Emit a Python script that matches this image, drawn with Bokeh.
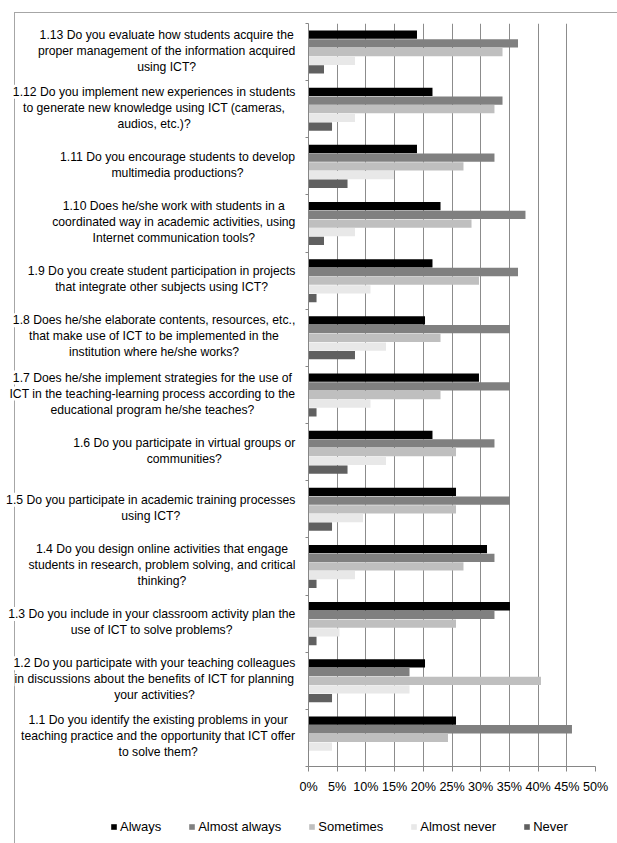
from bokeh.plotting import figure
from bokeh.layouts import column, row
from bokeh.models import (ColumnDataSource, Range1d, FixedTicker, PrintfTickFormatter,
                          Legend, LegendItem)
from bokeh.core.properties import value
from bokeh.transform import dodge
from bokeh.embed import file_html
from bokeh.resources import INLINE

# Survey items, from 1.1 (bottom) to 1.13 (top); "\n" marks the line breaks
questions = [
    "1.1 Do you identify the existing problems in your\nteaching practice and the opportunity that ICT offer\nto solve them?",
    "1.2 Do you participate with your teaching colleagues\nin discussions about the benefits of ICT for planning\nyour activities?",
    "1.3 Do you include in your classroom activity plan the\nuse of ICT to solve problems?",
    "1.4 Do you design online activities that engage\nstudents in research, problem solving, and critical\nthinking?",
    "1.5 Do you participate in academic training processes\nusing ICT?",
    "1.6 Do you participate in virtual groups or\ncommunities?",
    "1.7 Does he/she implement strategies for the use of\nICT in the teaching-learning process according to the\neducational program he/she teaches?",
    "1.8 Does he/she elaborate contents, resources, etc.,\nthat make use of ICT to be implemented in the\ninstitution where he/she works?",
    "1.9 Do you create student participation in projects\nthat integrate other subjects using ICT?",
    "1.10 Does he/she work with students in a\ncoordinated way in academic activities, using\nInternet communication tools?",
    "1.11 Do you encourage students to develop\nmultimedia productions?",
    "1.12 Do you implement new experiences in students\nto generate new knowledge using ICT (cameras,\naudios, etc.)?",
    "1.13 Do you evaluate how students acquire the\nproper management of the information acquired\nusing ICT?",
]

# Share of answers (%) per item, same order as questions
always        = [25.7, 20.3, 35.1, 31.1, 25.7, 21.6, 29.7, 20.3, 21.6, 23.0, 18.9, 21.6, 18.9]
almost_always = [45.9, 17.6, 32.4, 32.4, 35.1, 32.4, 35.1, 35.1, 36.5, 37.8, 32.4, 33.8, 36.5]
sometimes     = [24.3, 40.5, 25.7, 27.0, 25.7, 25.7, 23.0, 23.0, 29.7, 28.4, 27.0, 32.4, 33.8]
almost_never  = [4.1, 17.6, 5.4, 8.1, 9.5, 13.5, 10.8, 13.5, 10.8, 8.1, 14.9, 8.1, 8.1]
never         = [0.0, 4.1, 1.4, 1.4, 4.1, 6.8, 1.4, 8.1, 1.4, 2.7, 6.8, 4.1, 2.7]

series_keys = ["always", "almost_always", "sometimes", "almost_never", "never"]
series_names = ["Always", "Almost always", "Sometimes", "Almost never", "Never"]
series_colors = ["#000000", "#808080", "#bfbfbf", "#e8e8e8", "#606060"]
x_ticks = [0, 5, 10, 15, 20, 25, 30, 35, 40, 45, 50]

FONT = "Liberation Sans"
FS = 12.6          # tick labels
LFS = 12.2         # question labels
W, H = 617, 843
LABEL_W = 296            # width of the label column
TOP_H = 800              # height of the label + chart row
LEG_H = H - TOP_H        # height of the legend strip
AXIS_X, AXIS_TOP, AXIS_BOTTOM, PLOT_W = 308, 23, 766, 287
BORDER_X, BORDER_Y = 14, 12
n = len(questions)
ppu = (AXIS_BOTTOM - AXIS_TOP) / n          # pixels per category

# Arial-compatible advance widths (per 1000 em) used to centre the wrapped labels
_W = {" ": 278, ".": 278, ",": 278, "/": 278, "?": 556, "(": 333, ")": 333, "-": 333, "%": 889}
_W.update({d: 556 for d in "0123456789"})
_W.update(dict(zip("abcdefghijklmnopqrstuvwxyz",
                   [556, 556, 500, 556, 556, 278, 556, 556, 222, 222, 500, 222, 833,
                    556, 556, 556, 556, 333, 500, 278, 556, 500, 722, 500, 500, 500])))
_W.update(dict(zip("ABCDEFGHIJKLMNOPQRSTUVWXYZ",
                   [667, 667, 722, 722, 667, 611, 778, 722, 278, 500, 667, 556, 833,
                    722, 778, 667, 778, 722, 667, 611, 722, 667, 944, 667, 667, 611])))


def text_width(s, size):
    return sum(_W.get(c, 556) for c in s) * size / 1000.0


LINE = "linear-gradient(#a6a6a6, #a6a6a6)"


def border_styles(lines):
    """CSS background that paints thin border lines: (x, y, w, h) in px."""
    return {"background-color": "white",
            "background-image": ", ".join([LINE] * len(lines)),
            "background-size": ", ".join(f"{w}px {h}px" for (_, _, w, h) in lines),
            "background-position": ", ".join(f"{x}px {y}px" for (x, y, _, _) in lines),
            "background-repeat": "no-repeat"}


pos = [i + 0.5 for i in range(n)]
source = ColumnDataSource(dict(pos=pos, always=always, almost_always=almost_always,
                               sometimes=sometimes, almost_never=almost_never, never=never))

# ---- bar chart ----
chart_w = W - LABEL_W
p = figure(width=chart_w, height=TOP_H, output_backend="svg", toolbar_location=None,
           x_range=Range1d(0, 50), y_range=Range1d(0, n),
           min_border_left=AXIS_X - LABEL_W, min_border_right=chart_w - (AXIS_X - LABEL_W) - PLOT_W,
           min_border_top=AXIS_TOP, min_border_bottom=TOP_H - AXIS_BOTTOM,
           styles=border_styles([(0, BORDER_Y, chart_w, 1)]))
p.outline_line_color = None
p.background_fill_color = "white"
p.border_fill_alpha = 0

PITCH = 0.152
BAR_H = 0.145
renderers = []
for j, (key, color) in enumerate(zip(series_keys, series_colors)):
    r = p.hbar(y=dodge("pos", (2 - j) * PITCH, range=p.y_range), left=0, right=key,
               height=BAR_H, source=source, fill_color=color, line_color=None)
    renderers.append(r)

p.xaxis.ticker = FixedTicker(ticks=x_ticks)
p.xaxis.formatter = PrintfTickFormatter(format="%d%%")
p.xaxis.axis_line_color = "#868686"
p.xaxis.major_tick_line_color = "#868686"
p.xaxis.major_tick_out = 5
p.xaxis.major_tick_in = 0
p.xaxis.minor_tick_line_color = None
p.xaxis.major_label_text_font = FONT
p.xaxis.major_label_text_font_size = f"{FS}px"
p.xaxis.major_label_text_color = "#000000"
p.xaxis.major_label_standoff = 8

p.yaxis.ticker = FixedTicker(ticks=list(range(n + 1)))
p.yaxis.axis_line_color = "#868686"
p.yaxis.major_tick_line_color = "#868686"
p.yaxis.major_tick_out = 3
p.yaxis.major_tick_in = 0
p.yaxis.minor_tick_line_color = None
p.yaxis.major_label_text_color = None
p.yaxis.major_label_text_font_size = "0px"
p.yaxis.major_label_standoff = 0

p.xgrid.grid_line_color = "#8c8c8c"
p.xgrid.ticker = FixedTicker(ticks=x_ticks)
p.ygrid.grid_line_color = None

# ---- question labels: each line centred inside a right-aligned block ----
LABEL_RIGHT = 295
LINE_STEP = 16.0 / ppu
lx, ly, lt = [], [], []
for i, q in enumerate(questions):
    lines = q.split("\n")
    cx = LABEL_RIGHT - max(text_width(l, LFS) for l in lines) / 2
    m = len(lines)
    for k, line in enumerate(lines):
        lx.append(cx)
        ly.append(pos[i] + 1.5 / ppu + ((m - 1) / 2 - k) * LINE_STEP)
        lt.append(line)

# shares the chart's vertical range, so each label sits level with its bars
lab = figure(width=LABEL_W, height=TOP_H, output_backend="svg", toolbar_location=None,
             x_range=Range1d(0, LABEL_W), y_range=p.y_range,
             x_axis_type=None, y_axis_type=None,
             min_border_left=0, min_border_right=0,
             min_border_top=AXIS_TOP, min_border_bottom=TOP_H - AXIS_BOTTOM,
             styles=border_styles([(BORDER_X, BORDER_Y, LABEL_W - BORDER_X, 1),
                                   (BORDER_X, BORDER_Y, 1, TOP_H - BORDER_Y)]))
lab.outline_line_color = None
lab.background_fill_alpha = 0
lab.border_fill_alpha = 0
lab.grid.visible = False
lab.text(x="x", y="y", text="text", source=ColumnDataSource(dict(x=lx, y=ly, text=lt)),
         text_align="center", text_baseline="middle", text_font=value(FONT),
         text_font_size=value(f"{LFS}px"), text_color="#000000",
         background_fill_color="white")

# ---- legend strip ----
leg = figure(width=W, height=LEG_H, output_backend="svg", toolbar_location=None,
             x_range=Range1d(0, W), y_range=Range1d(0, LEG_H),
             x_axis_type=None, y_axis_type=None,
             min_border_left=0, min_border_right=0, min_border_top=0, min_border_bottom=0,
             styles=border_styles([(BORDER_X, 0, 1, LEG_H)]))
leg.outline_line_color = None
leg.background_fill_alpha = 0
leg.border_fill_alpha = 0
leg.grid.visible = False
# one swatch glyph per series, kept below the visible strip; only the legend shows it
swatches = [leg.hbar(y=[-100], left=[0], right=[1], height=1, fill_color=c, line_color=None)
            for c in series_colors]
legend = Legend(items=[LegendItem(label=nm, renderers=[r]) for nm, r in zip(series_names, swatches)],
                orientation="horizontal", location=(110, 9),
                glyph_width=7, glyph_height=7, label_standoff=3, spacing=27,
                padding=0, margin=0, border_line_color=None, background_fill_alpha=0,
                label_text_font=FONT, label_text_font_size="13px", label_text_color="#000000")
leg.add_layout(legend)

layout = column(row(lab, p), leg)
open("out.html", "w").write(file_html(layout, INLINE))
